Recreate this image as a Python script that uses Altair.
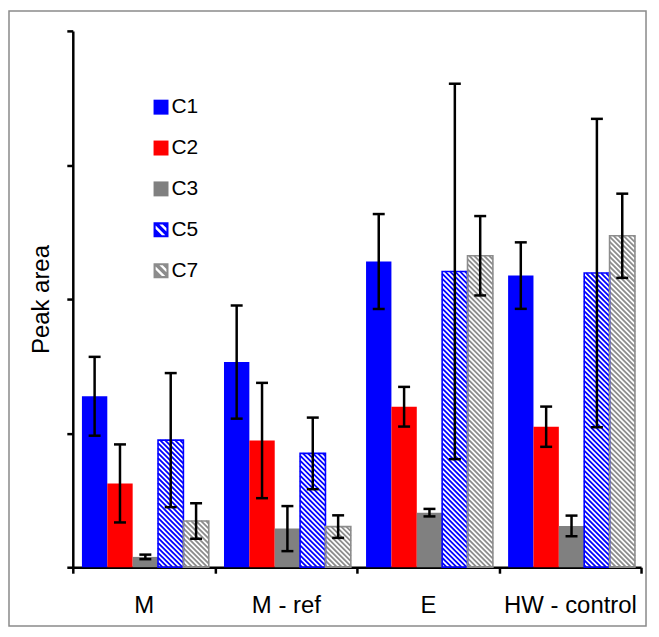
import altair as alt
import pandas as pd
import numpy as np

groups = ["M", "M - ref", "E", "HW - control"]
series = ["C1", "C2", "C3", "C5", "C7"]
colors = ["#0000FF", "#FF0000", "#808080", "#0000FF", "#8C8C8C"]
hatched = ["C5", "C7"]

c1 = [1.275, 1.53, 2.28, 2.175]
c2 = [0.625, 0.945, 1.197, 1.048]
c3 = [0.077, 0.288, 0.407, 0.308]
c5 = [0.948, 0.849, 2.206, 2.194]
c7 = [0.345, 0.303, 2.323, 2.472]

e1 = [0.294, 0.422, 0.354, 0.248]
e2 = [0.291, 0.430, 0.148, 0.150]
e3 = [0.017, 0.168, 0.028, 0.077]
e5 = [0.500, 0.267, 1.400, 1.150]
e7 = [0.133, 0.084, 0.296, 0.314]

y_ticks = [0, 1, 2, 3, 4]

values = {"C1": c1, "C2": c2, "C3": c3, "C5": c5, "C7": c7}
errors = {"C1": e1, "C2": e2, "C3": e3, "C5": e5, "C7": e7}

rows = []
for s in series:
    for gi, g in enumerate(groups):
        v = values[s][gi]
        e = errors[s][gi]
        rows.append(dict(group=g, series=s, value=v, lo=v - e, hi=v + e))
df = pd.DataFrame(rows)

# layout
W, H = 570, 538
YMAX = y_ticks[-1]
PAD_OUT = 0.3
ALIGN = 0.6
PERIOD = 5.0

# hatch lines derived from the bar values (45-degree stripes)
n_steps = len(series) + 2 * PAD_OUT
step_u = 1.0 / n_steps
sx = W / len(groups)
sy = H / YMAX
hrows = []
for s in hatched:
    k = series.index(s)
    for gi, g in enumerate(groups):
        v = values[s][gi]
        XL = (gi + (2 * PAD_OUT * ALIGN + k) * step_u) * sx
        XR = XL + step_u * sx
        YT = v * sy
        n0 = int(np.floor(XL / PERIOD))
        n1 = int(np.ceil((XR + YT) / PERIOD))
        for n in range(n0, n1 + 1):
            c = n * PERIOD
            X0 = max(XL, c - YT)
            X1 = min(XR, c)
            if X1 - X0 > 0.3:
                hrows.append(dict(series=s, hx=X0 / sx, hy=(c - X0) / sy,
                                  hx2=X1 / sx, hy2=(c - X1) / sy))
hdf = pd.DataFrame(hrows)


def clip(poly, f):
    out = []
    for i in range(len(poly)):
        p = poly[i]
        q = poly[(i + 1) % len(poly)]
        fp, fq = f(p), f(q)
        if fp >= 0:
            out.append(p)
        if (fp >= 0) != (fq >= 0):
            t = fp / (fp - fq)
            out.append((p[0] + t * (q[0] - p[0]), p[1] + t * (q[1] - p[1])))
    return out


def hatch_icon():
    m = 0.72
    inner = [(-m, -m), (m, -m), (m, m), (-m, m)]
    parts = ["M-1,-1L1,-1L1,1L-1,1Z"]
    for a, b in [(-0.95, -0.5), (0.15, 0.6)]:
        poly = clip(inner, lambda p, a=a: (p[1] - p[0]) - a)
        poly = clip(poly, lambda p, b=b: b - (p[1] - p[0]))
        area = sum(poly[i][0] * poly[(i + 1) % len(poly)][1] - poly[(i + 1) % len(poly)][0] * poly[i][1]
                   for i in range(len(poly)))
        if area > 0:
            poly = poly[::-1]
        parts.append("M" + "L".join(f"{x:.3f},{y:.3f}" for x, y in poly) + "Z")
    return "".join(parts)


icon = hatch_icon()
shapes = ["square", "square", "square", icon, icon]

color_scale = alt.Scale(domain=series, range=colors)
x_scale = alt.Scale(domain=groups, paddingInner=0, paddingOuter=0)
xoff_scale = alt.Scale(domain=series, paddingInner=0, paddingOuter=PAD_OUT, align=ALIGN)
y_scale = alt.Scale(domain=[0, YMAX], nice=False, zero=True)

leg = alt.Legend(orient="none", legendX=78, legendY=66, title=None, labelFontSize=21,
                 labelColor="black", labelFont="Liberation Sans", symbolSize=225,
                 rowPadding=19, labelOffset=0, padding=0, symbolStrokeWidth=0,
                 symbolOpacity=1)

base = alt.Chart(df)

solid = base.transform_filter(
    alt.FieldOneOfPredicate(field="series", oneOf=["C1", "C2", "C3"])
).mark_bar(strokeWidth=0).encode(
    x=alt.X("group:N", sort=groups, scale=x_scale, title=None,
            axis=alt.Axis(tickBand="extent", labelFontSize=24, labelColor="black",
                          labelPadding=20, labelAngle=0, tickSize=6, tickWidth=2.5,
                          tickColor="black", domainColor="black", domainWidth=2.5,
                          grid=False, labelFont="Liberation Sans")),
    xOffset=alt.XOffset("series:N", scale=xoff_scale),
    y=alt.Y("value:Q", scale=y_scale, title="Peak area",
            axis=alt.Axis(values=y_ticks, labels=False, tickSize=6, tickWidth=2.5,
                          tickColor="black", domainColor="black", domainWidth=2.5,
                          grid=False, titleFontSize=24, titleFontWeight="normal",
                          titleColor="black", titlePadding=12,
                          titleFont="Liberation Sans")),
    color=alt.Color("series:N", scale=color_scale, legend=leg),
)

hatch_lines = alt.Chart(hdf).mark_rule(strokeWidth=1.8).encode(
    x=alt.X("hx:Q", scale=alt.Scale(domain=[0, len(groups)], nice=False, zero=False), axis=None),
    x2="hx2:Q",
    y=alt.Y("hy:Q", scale=y_scale),
    y2="hy2:Q",
    color=alt.Color("series:N", scale=color_scale),
)

outline = base.transform_filter(
    alt.FieldOneOfPredicate(field="series", oneOf=hatched)
).mark_bar(filled=False, strokeWidth=1.6).encode(
    x=alt.X("group:N", sort=groups, scale=x_scale, axis=None),
    xOffset=alt.XOffset("series:N", scale=xoff_scale),
    y=alt.Y("value:Q", scale=y_scale),
    color=alt.Color("series:N", scale=color_scale),
)

err_rule = base.mark_rule(color="black", strokeWidth=2.5).encode(
    x=alt.X("group:N", sort=groups, scale=x_scale, axis=None),
    xOffset=alt.XOffset("series:N", scale=xoff_scale),
    y=alt.Y("lo:Q", scale=y_scale),
    y2="hi:Q",
)

caps = base.transform_fold(["lo", "hi"], as_=["end", "ev"]).mark_tick(
    color="black", thickness=2.5, size=12, opacity=1
).encode(
    x=alt.X("group:N", sort=groups, scale=x_scale, axis=None),
    xOffset=alt.XOffset("series:N", scale=xoff_scale),
    y=alt.Y("ev:Q", scale=y_scale),
)

legend_pts = alt.Chart(pd.DataFrame({"series": series})).mark_point(
    filled=True, opacity=0, size=10
).encode(
    color=alt.Color("series:N", scale=color_scale, legend=leg),
    shape=alt.Shape("series:N", scale=alt.Scale(domain=series, range=shapes), legend=leg),
)

frame = alt.Chart(pd.DataFrame({"a": [0]})).mark_rect(
    fill="transparent", stroke="#8a8a8a", strokeWidth=1.5
).encode(
    x=alt.value(-64), x2=alt.value(575), y=alt.value(-20), y2=alt.value(597)
)

chart = alt.layer(
    solid, hatch_lines, outline, err_rule, caps, legend_pts, frame
).resolve_scale(x="independent").properties(
    width=W, height=H,
    padding={"left": 65, "top": 22, "right": 10, "bottom": 62},
    autosize=alt.AutoSizeParams(type="none"),
).configure(font="Liberation Sans", background="white").configure_legend(
    labelFontSize=21, labelColor="black"
).configure_view(stroke=None)

chart.save("out.html", embed_options={"renderer": "svg", "actions": False})
